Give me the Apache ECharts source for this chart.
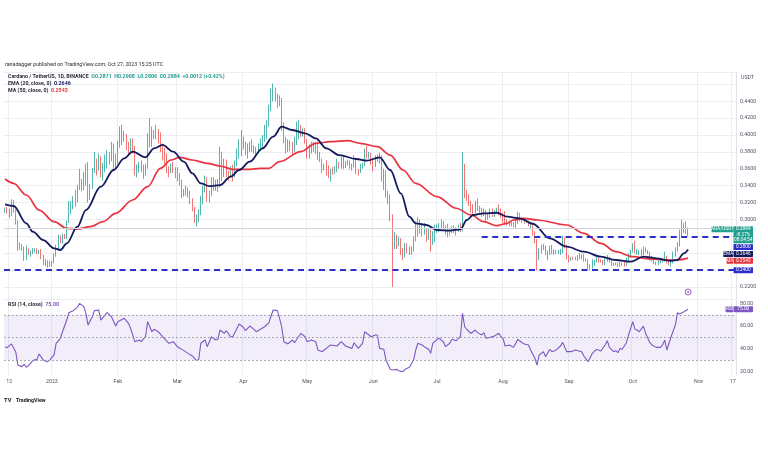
<!DOCTYPE html>
<html><head><meta charset="utf-8">
<script src="https://cdn.jsdelivr.net/npm/echarts@6/dist/echarts.min.js"></script>
<style>html,body{margin:0;padding:0;background:#fff;}#c{width:768px;height:463px;}</style>
</head><body><div id="c"></div>
<script>
// ---------- DATA ----------
// daily candles: [open, close, low, high]
const candlesDec22 = [[0.310,0.311,0.308,0.314],[0.311,0.309,0.307,0.315],[0.309,0.312,0.302,0.313],[0.312,0.317,0.304,0.324],[0.317,0.311,0.308,0.323],[0.311,0.296,0.294,0.312],[0.296,0.266,0.263,0.299],[0.266,0.270,0.264,0.273],[0.270,0.266,0.263,0.271],[0.266,0.254,0.251,0.268],[0.254,0.265,0.252,0.269],[0.265,0.260,0.258,0.266],[0.260,0.262,0.256,0.263],[0.262,0.262,0.259,0.266],[0.262,0.264,0.261,0.266],[0.264,0.261,0.259,0.266],[0.261,0.263,0.259,0.264],[0.263,0.256,0.253,0.265],[0.256,0.248,0.246,0.258],[0.248,0.251,0.245,0.253],[0.251,0.247,0.243,0.252],[0.247,0.246,0.244,0.251]];
const candlesJan = [[0.246,0.250,0.244,0.251],[0.250,0.257,0.248,0.260],[0.257,0.266,0.256,0.270],[0.266,0.278,0.265,0.282],[0.278,0.275,0.272,0.281],[0.275,0.280,0.272,0.283],[0.280,0.279,0.277,0.283],[0.279,0.297,0.277,0.299],[0.297,0.313,0.296,0.322],[0.313,0.318,0.306,0.322],[0.318,0.326,0.312,0.328],[0.326,0.325,0.315,0.335],[0.325,0.337,0.320,0.341],[0.337,0.346,0.335,0.360],[0.346,0.340,0.333,0.348],[0.340,0.350,0.335,0.356],[0.350,0.346,0.340,0.366],[0.346,0.325,0.320,0.368],[0.325,0.339,0.323,0.342],[0.339,0.359,0.336,0.361],[0.359,0.367,0.355,0.380],[0.367,0.361,0.352,0.372],[0.361,0.372,0.358,0.378],[0.372,0.355,0.350,0.375],[0.355,0.362,0.346,0.367],[0.362,0.368,0.356,0.377],[0.368,0.377,0.360,0.382],[0.377,0.370,0.365,0.380],[0.370,0.386,0.369,0.392],[0.386,0.360,0.357,0.390],[0.360,0.374,0.359,0.378]];
const candlesFeb = [[0.374,0.390,0.366,0.393],[0.390,0.395,0.385,0.410],[0.395,0.402,0.388,0.412],[0.402,0.398,0.392,0.405],[0.398,0.387,0.382,0.401],[0.387,0.382,0.376,0.392],[0.382,0.392,0.378,0.396],[0.392,0.384,0.378,0.396],[0.384,0.356,0.352,0.387],[0.356,0.358,0.350,0.365],[0.358,0.365,0.355,0.368],[0.365,0.362,0.356,0.370],[0.362,0.355,0.348,0.365],[0.355,0.362,0.352,0.366],[0.362,0.398,0.360,0.402],[0.398,0.388,0.385,0.420],[0.388,0.402,0.386,0.410],[0.402,0.400,0.395,0.406],[0.400,0.403,0.395,0.412],[0.403,0.397,0.390,0.407],[0.397,0.385,0.380,0.403],[0.385,0.380,0.370,0.390],[0.380,0.372,0.366,0.385],[0.372,0.360,0.355,0.378],[0.360,0.358,0.350,0.363],[0.358,0.363,0.355,0.366],[0.363,0.360,0.355,0.368],[0.360,0.353,0.349,0.362]];
const candlesMar = [[0.353,0.352,0.345,0.362],[0.352,0.345,0.340,0.355],[0.345,0.332,0.325,0.347],[0.332,0.333,0.327,0.336],[0.333,0.334,0.328,0.340],[0.334,0.331,0.326,0.338],[0.331,0.323,0.318,0.334],[0.323,0.313,0.310,0.325],[0.313,0.300,0.296,0.315],[0.300,0.302,0.292,0.306],[0.302,0.308,0.297,0.312],[0.308,0.325,0.305,0.328],[0.325,0.337,0.318,0.340],[0.337,0.345,0.332,0.352],[0.345,0.325,0.321,0.350],[0.325,0.330,0.320,0.334],[0.330,0.346,0.328,0.350],[0.346,0.338,0.334,0.350],[0.338,0.342,0.334,0.347],[0.342,0.340,0.333,0.348],[0.340,0.374,0.338,0.386],[0.374,0.352,0.345,0.380],[0.352,0.368,0.350,0.372],[0.368,0.355,0.350,0.371],[0.355,0.352,0.346,0.358],[0.352,0.360,0.350,0.363],[0.360,0.355,0.345,0.365],[0.355,0.366,0.350,0.370],[0.366,0.378,0.363,0.384],[0.378,0.384,0.372,0.395],[0.384,0.392,0.375,0.406]];
const candlesApr = [[0.392,0.390,0.383,0.398],[0.390,0.380,0.376,0.392],[0.380,0.384,0.372,0.390],[0.384,0.388,0.380,0.392],[0.388,0.385,0.380,0.395],[0.385,0.384,0.378,0.388],[0.384,0.380,0.376,0.386],[0.380,0.385,0.378,0.390],[0.385,0.392,0.381,0.396],[0.392,0.397,0.385,0.400],[0.397,0.405,0.392,0.412],[0.405,0.412,0.395,0.418],[0.412,0.430,0.410,0.436],[0.430,0.447,0.428,0.455],[0.447,0.452,0.440,0.461],[0.452,0.445,0.440,0.456],[0.445,0.443,0.432,0.449],[0.443,0.442,0.434,0.447],[0.442,0.410,0.405,0.444],[0.410,0.395,0.390,0.415],[0.395,0.383,0.378,0.398],[0.383,0.392,0.380,0.395],[0.392,0.386,0.381,0.394],[0.386,0.384,0.376,0.392],[0.384,0.395,0.380,0.398],[0.395,0.400,0.388,0.416],[0.400,0.410,0.395,0.418],[0.410,0.402,0.398,0.412],[0.402,0.404,0.398,0.408],[0.404,0.392,0.390,0.408]];
const candlesMay = [[0.392,0.378,0.372,0.395],[0.378,0.386,0.372,0.389],[0.386,0.388,0.378,0.392],[0.388,0.382,0.380,0.392],[0.382,0.388,0.378,0.392],[0.388,0.375,0.370,0.392],[0.375,0.370,0.368,0.380],[0.370,0.360,0.355,0.372],[0.360,0.364,0.358,0.366],[0.364,0.361,0.352,0.370],[0.361,0.352,0.349,0.364],[0.352,0.358,0.345,0.360],[0.358,0.357,0.353,0.362],[0.357,0.360,0.354,0.363],[0.360,0.366,0.356,0.372],[0.366,0.365,0.360,0.368],[0.365,0.372,0.360,0.374],[0.372,0.364,0.360,0.375],[0.364,0.366,0.361,0.369],[0.366,0.369,0.364,0.371],[0.369,0.362,0.360,0.370],[0.362,0.364,0.358,0.366],[0.364,0.372,0.362,0.376],[0.372,0.358,0.354,0.373],[0.358,0.357,0.352,0.360],[0.357,0.363,0.355,0.366],[0.363,0.365,0.360,0.367],[0.365,0.381,0.363,0.384],[0.381,0.376,0.372,0.387],[0.376,0.378,0.372,0.380],[0.378,0.370,0.365,0.379]];
const candlesJun = [[0.370,0.364,0.357,0.372],[0.364,0.373,0.362,0.376],[0.373,0.371,0.368,0.377],[0.371,0.374,0.366,0.379],[0.374,0.350,0.345,0.376],[0.350,0.356,0.335,0.360],[0.356,0.330,0.326,0.358],[0.330,0.325,0.318,0.334],[0.325,0.305,0.298,0.330],[0.305,0.274,0.220,0.306],[0.274,0.280,0.265,0.285],[0.280,0.271,0.265,0.282],[0.271,0.274,0.268,0.280],[0.274,0.264,0.258,0.278],[0.264,0.258,0.252,0.266],[0.258,0.266,0.255,0.272],[0.266,0.265,0.260,0.272],[0.265,0.262,0.258,0.268],[0.262,0.266,0.258,0.268],[0.266,0.276,0.262,0.280],[0.276,0.292,0.274,0.298],[0.292,0.287,0.280,0.303],[0.287,0.293,0.283,0.300],[0.293,0.285,0.280,0.296],[0.285,0.287,0.282,0.296],[0.287,0.279,0.274,0.290],[0.279,0.287,0.276,0.290],[0.287,0.272,0.262,0.288],[0.272,0.282,0.270,0.286],[0.282,0.289,0.273,0.294]];
const candlesJul = [[0.289,0.290,0.284,0.294],[0.290,0.292,0.285,0.296],[0.292,0.295,0.289,0.300],[0.295,0.291,0.288,0.298],[0.291,0.285,0.282,0.293],[0.285,0.283,0.279,0.295],[0.283,0.288,0.281,0.290],[0.288,0.290,0.284,0.292],[0.290,0.287,0.284,0.293],[0.287,0.288,0.281,0.291],[0.288,0.292,0.285,0.294],[0.292,0.289,0.285,0.296],[0.289,0.362,0.286,0.380],[0.362,0.330,0.325,0.366],[0.330,0.327,0.322,0.335],[0.327,0.320,0.316,0.330],[0.320,0.315,0.308,0.322],[0.315,0.311,0.305,0.318],[0.311,0.318,0.308,0.322],[0.318,0.314,0.310,0.325],[0.314,0.312,0.308,0.316],[0.312,0.306,0.303,0.314],[0.306,0.310,0.304,0.313],[0.310,0.302,0.298,0.311],[0.302,0.305,0.300,0.307],[0.305,0.310,0.302,0.313],[0.310,0.307,0.303,0.313],[0.307,0.309,0.303,0.311],[0.309,0.311,0.307,0.314],[0.311,0.310,0.305,0.318],[0.310,0.306,0.302,0.313]];
const candlesAug = [[0.306,0.305,0.296,0.308],[0.305,0.297,0.294,0.310],[0.297,0.296,0.293,0.300],[0.296,0.294,0.292,0.299],[0.294,0.295,0.292,0.297],[0.295,0.294,0.291,0.297],[0.294,0.297,0.290,0.299],[0.297,0.305,0.295,0.309],[0.305,0.300,0.298,0.308],[0.300,0.299,0.296,0.302],[0.299,0.297,0.295,0.301],[0.297,0.298,0.296,0.300],[0.298,0.294,0.292,0.299],[0.294,0.294,0.290,0.298],[0.294,0.284,0.281,0.296],[0.284,0.275,0.272,0.286],[0.275,0.258,0.240,0.277],[0.258,0.263,0.252,0.266],[0.263,0.267,0.260,0.270],[0.267,0.268,0.264,0.271],[0.268,0.261,0.258,0.269],[0.261,0.260,0.252,0.263],[0.260,0.267,0.258,0.269],[0.267,0.262,0.259,0.270],[0.262,0.263,0.258,0.265],[0.263,0.261,0.259,0.264],[0.261,0.262,0.259,0.264],[0.262,0.263,0.258,0.265],[0.263,0.277,0.260,0.281],[0.277,0.268,0.266,0.279],[0.268,0.256,0.253,0.270]];
const candlesSep = [[0.256,0.253,0.249,0.258],[0.253,0.255,0.251,0.256],[0.255,0.254,0.252,0.256],[0.254,0.255,0.252,0.256],[0.255,0.256,0.251,0.258],[0.256,0.257,0.253,0.260],[0.257,0.257,0.253,0.259],[0.257,0.253,0.250,0.259],[0.253,0.252,0.250,0.254],[0.252,0.245,0.241,0.253],[0.245,0.243,0.240,0.247],[0.243,0.249,0.242,0.253],[0.249,0.250,0.245,0.252],[0.250,0.253,0.249,0.256],[0.253,0.252,0.249,0.255],[0.252,0.251,0.249,0.253],[0.251,0.248,0.246,0.252],[0.248,0.252,0.246,0.255],[0.252,0.255,0.250,0.258],[0.255,0.252,0.249,0.256],[0.252,0.247,0.245,0.253],[0.247,0.247,0.245,0.249],[0.247,0.248,0.246,0.249],[0.248,0.246,0.244,0.249],[0.246,0.248,0.244,0.250],[0.248,0.247,0.245,0.249],[0.247,0.246,0.244,0.250],[0.246,0.253,0.245,0.255],[0.253,0.257,0.251,0.260],[0.257,0.262,0.255,0.264]];
const candlesOct = [[0.262,0.270,0.261,0.272],[0.270,0.262,0.260,0.275],[0.262,0.262,0.258,0.265],[0.262,0.262,0.258,0.264],[0.262,0.260,0.257,0.265],[0.260,0.266,0.258,0.268],[0.266,0.263,0.261,0.267],[0.263,0.261,0.259,0.264],[0.261,0.254,0.251,0.262],[0.254,0.253,0.250,0.257],[0.253,0.249,0.247,0.254],[0.249,0.248,0.246,0.250],[0.248,0.249,0.246,0.252],[0.249,0.250,0.248,0.252],[0.250,0.252,0.249,0.253],[0.252,0.256,0.250,0.262],[0.256,0.250,0.248,0.257],[0.250,0.248,0.246,0.252],[0.248,0.249,0.244,0.251],[0.249,0.258,0.248,0.262],[0.258,0.264,0.256,0.267],[0.264,0.270,0.262,0.273],[0.270,0.283,0.268,0.288],[0.283,0.292,0.279,0.300],[0.292,0.291,0.284,0.296],[0.291,0.287,0.283,0.298],[0.2871,0.2884,0.2806,0.2908]];

// EMA(20) and MA(50): [day offset from 2022-12-10, value]
const emaPts = [[0,.318],[4,.316],[10,.2955],[13,.2856],[18,.2757],[23,.2659],[26,.2639],[29,.2718],[34,.2915],[38,.3112],[45,.3388],[51,.3586],[56,.3724],[60,.3803],[66,.3736],[70,.3842],[74,.3882],[79,.3803],[84,.3684],[88,.3547],[92,.3428],[96,.3396],[101,.3408],[106,.3507],[110,.3586],[115,.3684],[121,.3842],[126,.398],[130,.4098],[135,.4059],[141,.402],[146,.396],[151,.3842],[157,.3763],[165,.3716],[170,.3696],[176,.3736],[181,.3586],[186,.331],[190,.3033],[193,.2955],[198,.2935],[203,.2876],[209,.2868],[214,.2884],[217,.2994],[220,.3053],[225,.3073],[231,.308],[236,.3033],[242,.3014],[248,.295],[256,.2777],[264,.2678],[272,.2619],[280,.256],[287,.2521],[294,.2501],[300,.256],[306,.2541],[313,.2512],[316,.2521],[319,.26],[321,.2646]];
const maPts = [[0,.3479],[4,.3428],[10,.329],[16,.3112],[23,.2974],[29,.2896],[34,.2888],[40,.2915],[46,.2974],[52,.3073],[60,.3231],[67,.3388],[73,.3606],[78,.3704],[82,.3736],[88,.3704],[95,.3665],[101,.3633],[107,.3594],[114,.3594],[120,.3606],[124,.3606],[129,.3684],[139,.3803],[146,.3902],[153,.3921],[161,.3933],[167,.3902],[175,.3862],[181,.3763],[187,.3586],[193,.3428],[203,.327],[212,.3133],[219,.3053],[225,.2974],[231,.2927],[236,.2955],[239,.2994],[244,.3014],[250,.2994],[264,.2935],[272,.2837],[280,.2718],[287,.2619],[295,.256],[303,.2533],[311,.2521],[316,.2521],[321,.2543]];
// RSI(14) vertices
const rsiPts = [[0,41.9],[1,41],[3,44.3],[5,37.5],[6,25.7],[8,24.3],[9,26.6],[10,23.7],[12,27.2],[13,29.6],[15,30.7],[16,35.4],[18,30],[20,28.7],[21,30],[23,34.6],[24,44.9],[26,49.3],[27,55.1],[29,65.4],[30,71.9],[32,73.7],[34,76.6],[35,80.1],[37,77.2],[38,71.3],[39,61],[41,68.4],[42,73.7],[44,74.3],[45,65.4],[47,69.9],[48,71.9],[50,68.4],[52,60.1],[53,64],[56,66.9],[58,62.5],[59,58.1],[61,46.3],[63,47.8],[64,46.3],[66,50.7],[67,64],[69,55.1],[70,57.2],[72,55.1],[74,50.7],[77,44.9],[79,46.3],[81,41.9],[84,38.4],[86,36],[88,33.7],[90,29.6],[91,30.7],[92,44.9],[94,47.8],[95,41.9],[97,50.7],[99,47.8],[100,48.4],[101,56.6],[103,53.7],[104,56],[106,50.7],[107,50.7],[109,58.1],[110,61.9],[112,59],[113,56],[115,60.1],[117,57.2],[118,55.1],[120,57.2],[122,59.5],[124,63.1],[125,69],[126,74.3],[128,73.7],[129,66.9],[130,59.5],[131,46.3],[133,44.3],[135,47.8],[136,45.4],[139,53.7],[141,50.7],[142,46.3],[144,47.8],[146,46.3],[147,39],[149,37.5],[150,39],[152,41.9],[153,43.4],[156,42.5],[158,46.3],[160,42.5],[163,40.4],[164,45.4],[166,40.4],[168,44.9],[169,55.1],[171,52.2],[172,50.7],[174,52.2],[175,52.2],[176,40.4],[178,39.6],[179,30.1],[181,21.9],[182,21.3],[184,21.9],[185,20.7],[187,19.9],[188,21.9],[190,23.7],[192,30.1],[193,39],[194,44.9],[196,43.4],[197,41.9],[199,39.6],[200,36],[201,44.9],[203,48.4],[204,49.3],[206,46.3],[207,41.9],[209,44.9],[210,48.4],[212,47.2],[214,50.7],[215,71.3],[216,59.5],[218,55.1],[219,53.7],[221,56.6],[222,54.3],[224,52.2],[225,54.3],[226,49.3],[228,50.1],[230,51.3],[232,53.7],[233,50.7],[234,49.3],[235,42.5],[237,43.4],[239,41.3],[241,48.4],[243,45.4],[244,44.3],[246,43.4],[247,39],[249,31.6],[250,25.7],[251,34.6],[253,37.5],[254,33.1],[256,39.6],[257,37.5],[259,39],[261,42.5],[262,45.7],[264,37.5],[266,37.5],[268,39],[271,37.5],[272,33.7],[274,28.7],[276,36],[278,39.6],[280,38.1],[282,43.4],[283,47.2],[284,41.3],[286,37.5],[287,38.4],[288,36.6],[289,40.4],[290,39.6],[292,45.4],[293,52.2],[295,64],[296,57.2],[297,56.6],[298,55.1],[300,60.1],[301,53.7],[303,45.4],[304,43.4],[306,41.3],[308,41.3],[309,43.4],[310,47.8],[311,39],[313,50.7],[315,61],[316,71.9],[317,70.7],[319,72.8],[321,75]];

const xTickLabels = [['2022-12-12','12'],['2023-01-01','2023'],['2023-02-01','Feb'],['2023-03-01','Mar'],['2023-04-01','Apr'],['2023-05-01','May'],['2023-06-01','Jun'],['2023-07-01','Jul'],['2023-08-01','Aug'],['2023-09-01','Sep'],['2023-10-01','Oct'],['2023-11-01','Nov'],['2023-11-17','17']];
const lastPrice = 0.2884, emaLast = 0.2646, maLast = 0.2543, rsiLast = 75.00;
const supportLevel = 0.24, resistanceLevel = 0.28, resistanceStart = '2023-07-22';
const rsiLevels = [70, 50, 30];

// ---------- BUILD ----------
const dates = [];
for (let i = 0; i < 344; i++) dates.push(new Date(Date.UTC(2022, 11, 10 + i)).toISOString().slice(0, 10));
const candles = [].concat(candlesDec22, candlesJan, candlesFeb, candlesMar, candlesApr, candlesMay, candlesJun, candlesJul, candlesAug, candlesSep, candlesOct);
const labelMap = Object.fromEntries(xTickLabels);
const isTick = (i, v) => labelMap[v] !== undefined;
const FONT = 'Roboto, "Liberation Sans", sans-serif';
const FS = 5.3, TFS = 4.8;
const BLUE = '#2c2fc9', NAVY = '#141a5e', RED = '#e8333f', TEAL = '#22a08f', PURPLE = '#7e57c2';
const UP = '#26a69a', DOWN = '#ef5350';

const chart = echarts.init(document.getElementById('c'), null, {renderer: 'canvas', width: 768, height: 463});
const mainLabel = v => {
  const k = Math.round(v * 50);
  if (Math.abs(v * 50 - k) > 1e-6) return '';
  if (v < 0.215 || v > 0.445) return '';
  if ([12, 13, 14].includes(k)) return '';
  return v.toFixed(4);
};
const rsiLabel = v => {
  const r = Math.round(v);
  return (Math.abs(v - r) < 1e-6 && [20, 40, 60, 80].includes(r)) ? v.toFixed(2) : '';
};
const vGrid = {show: true, interval: isTick, lineStyle: {color: '#eceef3', width: 1}};

const option = {
  animation: false,
  textStyle: {fontFamily: FONT},
  title: [
    {text: 'ranadagger published on TradingView.com, Oct 27, 2023 15:25 UTC', left: 5, top: 62, padding: 0,
     textStyle: {fontSize: FS, fontWeight: 'normal', color: '#2a2e39', fontFamily: FONT}},
    {text: '{k|Cardano / TetherUS, 1D, BINANCE}  {g|O0.2871  H0.2908  L0.2806  C0.2884  +0.0012 (+0.42%)}', left: 8, top: 74, padding: 0,
     textStyle: {fontSize: FS, fontFamily: FONT, rich: {k: {color: '#2a2e39', fontSize: FS}, g: {color: TEAL, fontSize: FS}}}},
    {text: '{k|EMA (20, close, 0)}  {v|0.2646}', left: 8, top: 81.5, padding: 0,
     textStyle: {fontSize: FS, fontFamily: FONT, rich: {k: {color: '#2a2e39', fontSize: FS}, v: {color: NAVY, fontSize: FS}}}},
    {text: '{k|MA (50, close, 0)}  {v|0.2543}', left: 8, top: 88.5, padding: 0,
     textStyle: {fontSize: FS, fontFamily: FONT, rich: {k: {color: '#2a2e39', fontSize: FS}, v: {color: RED, fontSize: FS}}}},
    {text: '{k|RSI (14, close)}  {v|75.00}', left: 8, top: 302.5, padding: 0,
     textStyle: {fontSize: FS, fontFamily: FONT, rich: {k: {color: '#2a2e39', fontSize: FS}, v: {color: PURPLE, fontSize: FS}}}},
    {text: 'USDT', left: 741, top: 75.5, padding: 0,
     textStyle: {fontSize: FS, fontWeight: 'normal', color: '#50535e', fontFamily: FONT}},
    {text: '{l|TV} {t|TradingView}', left: 4, top: 392, padding: 0,
     textStyle: {fontFamily: FONT, rich: {l: {fontSize: 5.8, fontWeight: 'bold', color: '#131722'}, t: {fontSize: FS, color: '#131722'}}}}
  ],
  grid: [
    {left: 4, right: 32, top: 72, height: 227, outerBoundsMode: 'none', show: false},
    {left: 4, right: 32, top: 300, height: 75, outerBoundsMode: 'none', show: false}
  ],
  xAxis: [
    {type: 'category', gridIndex: 0, data: dates, boundaryGap: true,
     axisLine: {show: false}, axisTick: {show: false}, axisLabel: {show: false}, splitLine: vGrid},
    {type: 'category', gridIndex: 1, data: dates, boundaryGap: true,
     axisLine: {show: false}, axisTick: {show: false},
     axisLabel: {show: true, interval: isTick, formatter: v => labelMap[v] || '', fontSize: FS, color: '#50535e', margin: 4, fontFamily: FONT},
     splitLine: vGrid}
  ],
  yAxis: [
    {type: 'value', gridIndex: 0, position: 'right', min: 0.20592, max: 0.47456, splitNumber: 13,
     axisLine: {show: true, lineStyle: {color: '#e0e3eb'}}, axisTick: {show: false},
     axisLabel: {formatter: mainLabel, fontSize: FS, color: '#50535e', margin: 4, fontFamily: FONT},
     splitLine: {show: true, lineStyle: {color: '#eceef3', width: 1}}},
    {type: 'value', gridIndex: 1, position: 'right', min: 16.9, max: 83.1, splitNumber: 3,
     axisLine: {show: true, lineStyle: {color: '#e0e3eb'}}, axisTick: {show: false},
     axisLabel: {formatter: rsiLabel, fontSize: FS, color: '#50535e', margin: 4, fontFamily: FONT},
     splitLine: {show: false}}
  ],
  series: [
    {type: 'candlestick', xAxisIndex: 0, yAxisIndex: 0, data: candles, barWidth: 1.2,
     itemStyle: {color: UP, color0: DOWN, borderColor: UP, borderColor0: DOWN, borderWidth: 0.8},
     markLine: {symbol: 'none', silent: true, animation: false, label: {show: false},
       data: [
         {yAxis: lastPrice, lineStyle: {color: '#cfd3dc', type: 'solid', width: 1}},
         {yAxis: supportLevel, lineStyle: {color: BLUE, type: [6, 4.5], width: 2}},
         [{coord: [resistanceStart, resistanceLevel], lineStyle: {color: BLUE, type: [6, 4.5], width: 2}},
          {coord: [dates[dates.length - 1], resistanceLevel]}]
       ]}},
    {type: 'line', name: 'MA', xAxisIndex: 0, yAxisIndex: 0, data: maPts.map(([d, v]) => [dates[d], v]),
     smooth: 0.35, smoothMonotone: 'x', showSymbol: false, lineStyle: {color: RED, width: 1.7}, z: 3},
    {type: 'line', name: 'EMA', xAxisIndex: 0, yAxisIndex: 0, data: emaPts.map(([d, v]) => [dates[d], v]),
     smooth: 0.35, smoothMonotone: 'x', showSymbol: false, lineStyle: {color: NAVY, width: 1.8}, z: 4},
    {type: 'line', name: 'RSI', xAxisIndex: 1, yAxisIndex: 1, data: rsiPts.map(([d, v]) => [dates[d], v]),
     showSymbol: false, lineStyle: {color: PURPLE, width: 1.1},
     markArea: {silent: true, itemStyle: {color: 'rgba(126,87,194,0.10)'}, data: [[{yAxis: rsiLevels[2]}, {yAxis: rsiLevels[0]}]]},
     markLine: {symbol: 'none', silent: true, label: {show: false},
       lineStyle: {color: '#9598a1', type: [2, 2], width: 0.8},
       data: rsiLevels.map(v => ({yAxis: v}))}}
  ]
};
chart.setOption(option);

// ---------- price-scale tags (positioned from values via the axis scale) ----------
const yOf = v => chart.convertToPixel({yAxisIndex: 0}, v);
const g = [];
function box(x, y, w, h, fill) {
  g.push({type: 'rect', z: 100, shape: {x: x, y: y, width: w, height: h, r: 0.6}, style: {fill: fill}});
}
function txt(x, y, s, color) {
  g.push({type: 'text', z: 101, x: x, y: y,
    style: {text: s, fill: color || '#fff', font: TFS + 'px ' + FONT,
            textAlign: 'center', textVerticalAlign: 'middle', align: 'center', verticalAlign: 'middle'}});
}
const TX = 733.5, TW = 19.5, TH = 6.0;
let bottom = -1;
// last price tag
{
  const yc = yOf(lastPrice); const top = yc - TH / 2;
  box(711.5, top, 22, TH, TEAL); txt(711.5 + 11, yc, 'ADA/USDT');
  box(TX, top, TW, 17, TEAL);
  txt(TX + TW / 2, yc, lastPrice.toFixed(4)); txt(TX + TW / 2, yc + 5.4, '-8.27%'); txt(TX + TW / 2, yc + 10.8, '08:34:54');
  bottom = top + 17;
}
const stack = [
  {v: resistanceLevel, bg: BLUE},
  {v: emaLast, bg: NAVY, name: 'EMA', nx: 723.2},
  {v: maLast, bg: RED, name: 'MA', nx: 726.5},
  {v: supportLevel, bg: BLUE}
];
stack.forEach(t => {
  let top = Math.max(yOf(t.v) - TH / 2, bottom + 0.8);
  const yc = top + TH / 2;
  if (t.name) { box(t.nx, top, TX - t.nx - 0.4, TH, t.bg); txt((t.nx + TX) / 2, yc, t.name); }
  box(TX, top, TW, TH, t.bg); txt(TX + TW / 2, yc, t.v.toFixed(4));
  bottom = top + TH;
});
// RSI tag
{
  const yc = chart.convertToPixel({yAxisIndex: 1}, rsiLast);
  box(725.5, yc - TH / 2, TX - 725.9, TH, PURPLE); txt((725.5 + TX) / 2, yc, 'RSI');
  box(TX, yc - TH / 2, TW, TH, PURPLE); txt(TX + TW / 2, yc, rsiLast.toFixed(2));
}
// upcoming-event marker above the last candle
{
  const xl = chart.convertToPixel({xAxisIndex: 0}, dates[candles.length - 1]);
  g.push({type: 'circle', z: 100, shape: {cx: xl, cy: 292, r: 3}, style: {fill: '#fff', stroke: '#9c5fc4', lineWidth: 1}});
  g.push({type: 'circle', z: 101, shape: {cx: xl, cy: 292, r: 1}, style: {fill: '#9c5fc4'}});
}
chart.setOption({graphic: {elements: g}});
</script>
</body></html>
